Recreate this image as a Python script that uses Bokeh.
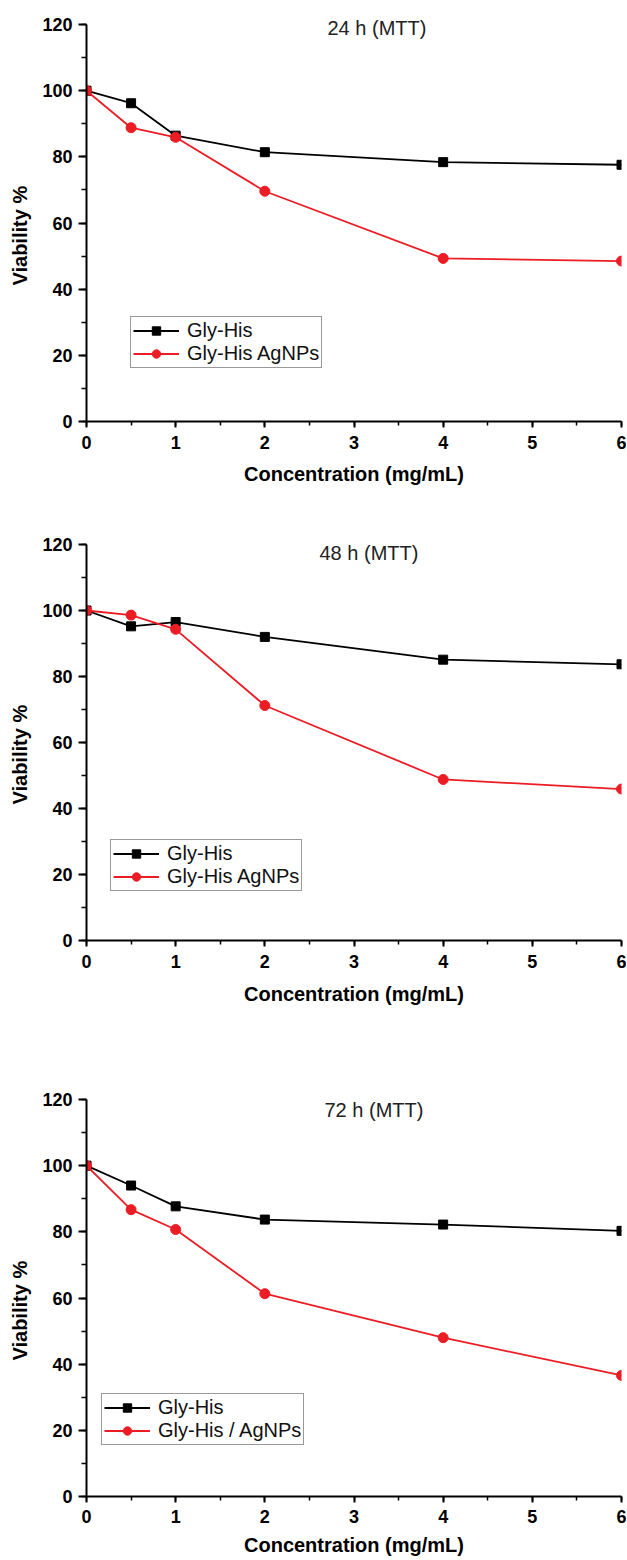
from bokeh.plotting import figure
from bokeh.layouts import column
from bokeh.models import Legend, LegendItem, Title, SingleIntervalTicker, Range1d
from bokeh.embed import file_html
from bokeh.resources import INLINE

# ---------------- data ----------------
concentration = [0, 0.5, 1, 2, 4, 6]

titles = ["24 h (MTT)", "48 h (MTT)", "72 h (MTT)"]

gly_his_24 = [100, 96.2, 86.4, 81.4, 78.4, 77.6]
agnps_24 = [100, 88.8, 85.9, 69.6, 49.3, 48.5]

gly_his_48 = [100, 95.2, 96.5, 92.0, 85.1, 83.7]
agnps_48 = [100, 98.6, 94.3, 71.2, 48.8, 45.9]

gly_his_72 = [100, 94.0, 87.7, 83.7, 82.2, 80.3]
agnps_72 = [100, 86.7, 80.7, 61.3, 48.0, 36.6]

series_black_label = "Gly-His"
series_red_labels = ["Gly-His AgNPs", "Gly-His AgNPs", "Gly-His / AgNPs"]

x_label = "Concentration (mg/mL)"
y_label = "Viability %"

# ---------------- styling ----------------
FONT = "Liberation Sans"
RED = "#ec1c24"
BLACK = "#000000"


def make_panel(title, black, red, red_label, height, b_top, b_bottom,
               legend_xy, title_offset, title_standoff,
               tick_standoff, label_standoff):
    p = figure(width=626, height=height, output_backend="svg",
               toolbar_location=None,
               x_range=Range1d(0, 6), y_range=Range1d(0, 120),
               min_border_left=86, min_border_right=5,
               min_border_top=b_top, min_border_bottom=b_bottom)
    p.outline_line_color = None
    p.xgrid.visible = False
    p.ygrid.visible = False
    p.background_fill_color = "white"
    p.border_fill_color = "white"

    p.xaxis.ticker = SingleIntervalTicker(interval=1, num_minor_ticks=2)
    p.yaxis.ticker = SingleIntervalTicker(interval=20, num_minor_ticks=2)

    for ax in (p.xaxis[0], p.yaxis[0]):
        ax.axis_line_width = 2
        ax.axis_line_color = BLACK
        ax.major_tick_line_width = 2
        ax.minor_tick_line_width = 1.5
        ax.major_tick_line_color = BLACK
        ax.minor_tick_line_color = BLACK
        ax.major_tick_in = 0
        ax.minor_tick_in = 0
        ax.major_label_text_font = FONT
        ax.major_label_text_font_style = "bold"
        ax.major_label_text_font_size = "18px"
        ax.major_label_text_color = BLACK
        ax.axis_label_text_font = FONT
        ax.axis_label_text_font_style = "bold"
        ax.axis_label_text_font_size = "20px"
        ax.axis_label_text_color = BLACK

    p.xaxis.major_tick_out = 6
    p.xaxis.minor_tick_out = 4
    p.yaxis.major_tick_out = 8
    p.yaxis.minor_tick_out = 5
    p.xaxis.major_label_standoff = tick_standoff
    p.xaxis.axis_label_standoff = label_standoff
    p.yaxis.major_label_standoff = 6

    p.xaxis.axis_label = x_label

    # y-axis label, placed a little below the frame centre as in the original
    p.add_layout(Title(text=y_label, align="left", offset=136,
                       vertical_align="top", standoff=14,
                       text_font=FONT, text_font_style="bold",
                       text_font_size="20px", text_color=BLACK), "left")

    lb = p.line(concentration, black, line_color=BLACK, line_width=1.8)
    sb = p.scatter(concentration, black, marker="square", size=9,
                   fill_color=BLACK, line_color=BLACK)
    lr = p.line(concentration, red, line_color=RED, line_width=1.8)
    sr = p.scatter(concentration, red, marker="circle", size=10,
                   fill_color=RED, line_color=RED)

    legend = Legend(items=[LegendItem(label=series_black_label, renderers=[lb, sb]),
                           LegendItem(label=red_label, renderers=[lr, sr])],
                    location=legend_xy)
    legend.label_text_font = FONT
    legend.label_text_font_size = "20px"
    legend.label_text_color = "#111111"
    legend.glyph_width = 46
    legend.glyph_height = 21
    legend.label_height = 21
    legend.label_standoff = 8
    legend.padding = 2
    legend.spacing = 0
    legend.margin = 0
    legend.border_line_color = "#333333"
    legend.border_line_width = 1
    legend.background_fill_color = "white"
    legend.background_fill_alpha = 1
    p.add_layout(legend, "center")

    p.add_layout(Title(text=title, align="left", offset=title_offset,
                       vertical_align="bottom", standoff=title_standoff,
                       text_font=FONT, text_font_style="normal",
                       text_font_size="20px", text_color="#222222"), "above")
    return p


p1 = make_panel(titles[0], gly_his_24, agnps_24, series_red_labels[0],
                height=500, b_top=24, b_bottom=79,
                legend_xy=(44, 53), title_offset=241, title_standoff=-28,
                tick_standoff=8, label_standoff=11)
p2 = make_panel(titles[1], gly_his_48, agnps_48, series_red_labels[1],
                height=535, b_top=44, b_bottom=95,
                legend_xy=(24, 49), title_offset=233, title_standoff=-38,
                tick_standoff=8, label_standoff=12)
p3 = make_panel(titles[2], gly_his_72, agnps_72, series_red_labels[2],
                height=524, b_top=64, b_bottom=63,
                legend_xy=(15, 51), title_offset=238, title_standoff=-42,
                tick_standoff=7, label_standoff=8)

layout = column(p1, p2, p3, spacing=0)

open("out.html", "w").write(file_html(layout, INLINE))
